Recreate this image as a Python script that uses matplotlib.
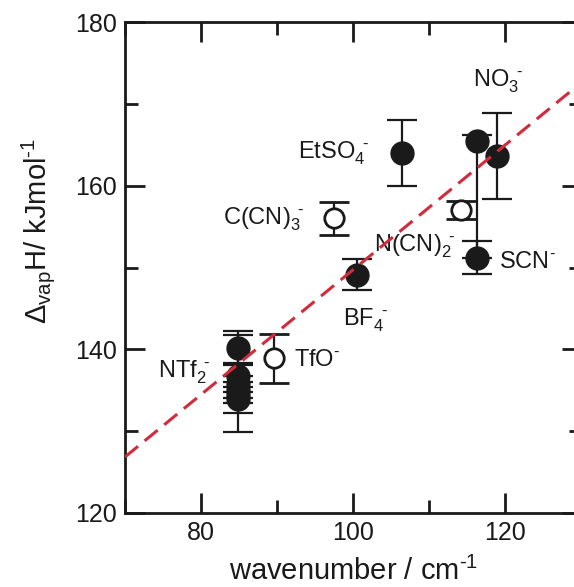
import matplotlib
matplotlib.use("Agg")
import matplotlib.pyplot as plt
from matplotlib.ticker import MultipleLocator

plt.rcParams['font.family'] = ['Liberation Sans', 'DejaVu Sans']
plt.rcParams['mathtext.fontset'] = 'custom'
plt.rcParams['mathtext.rm'] = 'Liberation Sans'
plt.rcParams['mathtext.it'] = 'Liberation Sans'
plt.rcParams['mathtext.bf'] = 'Liberation Sans:bold'

HY = '\u2010'  # short hyphen used as the charge sign

# filled symbols
filled_x = [84.8, 84.8, 84.8, 84.8, 84.8, 84.8, 100.55, 106.45, 116.3, 116.3, 118.9]
filled_y = [140.2, 136.8, 135.8, 135.0, 134.4, 133.9, 149.1, 164.0, 165.4, 151.1, 163.6]
filled_err_lo = [2.1, 4.6, 1.0, 1.0, 1.0, 4.0, 1.9, 4.0, 14.3, 1.9, 5.2]
filled_err_hi = [2.1, 5.0, 1.0, 1.0, 1.0, 4.4, 1.9, 4.0, 0.8, 2.1, 5.3]

# open symbols: TfO, C(CN)3, N(CN)2
open_x = [89.6, 97.5, 114.1]
open_y = [138.9, 156.0, 157.0]
open_err = [3.0, 2.0, 1.1]

# linear fit (dashed red)
fit_x = [70, 130]
fit_intercept = 126.85
fit_slope = 0.763

labels = [r'NO$_3^{\;\;%s}$' % HY, r'EtSO$_4^{\;\;%s}$' % HY, r'C(CN)$_3^{\;\;%s}$' % HY,
          r'N(CN)$_2^{\;\;%s}$' % HY, r'SCN$^{%s}$' % HY, r'BF$_4^{\;\;%s}$' % HY,
          r'NTf$_2^{\;\;%s}$' % HY, r'TfO$^{%s}$' % HY]
label_x = [115.8, 92.7, 82.9, 102.7, 119.1, 98.7, 74.4, 92.2]
label_y = [172.1, 163.3, 155.2, 151.9, 149.9, 142.9, 136.5, 138.0]

fig = plt.figure(figsize=(5.74, 5.87), dpi=100)
ax = fig.add_axes([125 / 574, 74 / 587, 456.5 / 574, 491 / 587])

ax.errorbar(filled_x, filled_y, yerr=[filled_err_lo, filled_err_hi], fmt='o',
            color='#1a1a1a', ecolor='#1a1a1a', markersize=16.5, elinewidth=1.6,
            capsize=10.5, capthick=1.6, zorder=3)
ax.errorbar(open_x, open_y, yerr=open_err, fmt='o', color='#1a1a1a',
            markerfacecolor='white', markeredgewidth=2.0, markersize=14,
            ecolor='#1a1a1a', elinewidth=1.6, capsize=10.5, capthick=1.6, zorder=3)

fit_y = [fit_intercept + fit_slope * (x - 70) for x in fit_x]
ax.plot(fit_x, fit_y, color='#d42a3c', linewidth=2.2, linestyle=(0, (5.5, 2.8)), zorder=4)

for txt, lx, ly in zip(labels, label_x, label_y):
    ax.text(lx, ly, txt, fontsize=17, ha='left', va='baseline', color='#1a1a1a')

ax.set_xlim(70, 130)
ax.set_ylim(120, 180)
ax.xaxis.set_major_locator(MultipleLocator(20))
ax.xaxis.set_minor_locator(MultipleLocator(10))
ax.yaxis.set_major_locator(MultipleLocator(20))
ax.yaxis.set_minor_locator(MultipleLocator(10))
ax.tick_params(which='both', direction='in', top=True, right=True, width=2, color='#1a1a1a')
ax.tick_params(which='major', length=14.5, labelsize=18, pad=6, labelcolor='#1a1a1a')
ax.tick_params(which='minor', length=9.5)
for s in ax.spines.values():
    s.set_linewidth(2)
    s.set_color('#1a1a1a')

ax.set_xlabel(r'wavenumber / cm$^{%s1}$' % HY, fontsize=21, color='#1a1a1a')
ax.xaxis.set_label_coords(0.5, -0.09)
ax.set_ylabel(r'$\Delta_{\rm vap}$H/ kJmol$^{%s1}$' % HY, fontsize=21, color='#1a1a1a')
ax.yaxis.set_label_coords(-0.15, 0.575)

fig.savefig('out.png', dpi=100)
